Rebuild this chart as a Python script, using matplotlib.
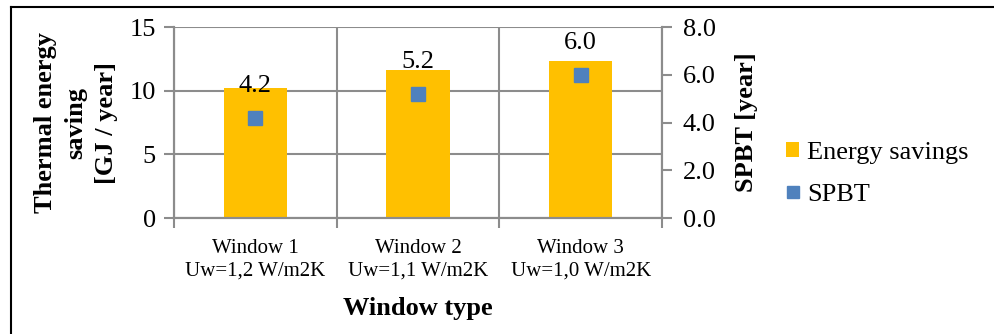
import matplotlib.pyplot as plt
from matplotlib.lines import Line2D
from matplotlib.ticker import FixedLocator

plt.rcParams['font.family'] = ['Liberation Serif', 'DejaVu Serif']

windows = ["Window 1\nUw=1,2 W/m2K", "Window 2\nUw=1,1 W/m2K", "Window 3\nUw=1,0 W/m2K"]
energy_savings = [10.2, 11.6, 12.3]   # GJ / year
spbt = [4.2, 5.2, 6.0]                # years

grid_col = "#8c8c8c"
bar_col = "#FFC000"
pt_col = "#4F81BD"

fig = plt.figure(figsize=(9.94, 3.34), dpi=100)
ax = fig.add_axes([0.175, 0.347, 0.491, 0.572])
ax2 = ax.twinx()

x = list(range(len(windows)))
bars = ax.bar(x, energy_savings, width=0.39, color=bar_col, zorder=2, label="Energy savings")
pts, = ax2.plot(x, spbt, linestyle="none", marker="s", markersize=9.5, color=pt_col, label="SPBT", zorder=3)

for xi, v in zip(x, spbt):
    ax2.annotate(f"{v:.1f}", (xi, v), xytext=(0, 23), textcoords="offset points",
                 ha="center", va="center", fontsize=19)

ax.set_xlim(-0.5, 2.5)
ax.set_ylim(0, 15)
ax2.set_ylim(0, 8)
ax.set_yticks([0, 5, 10, 15])
ax2.set_yticks([0, 2, 4, 6, 8])
ax2.set_yticklabels([f"{t:.1f}" for t in [0, 2, 4, 6, 8]])

# category labels on major ticks, boundaries on minor ticks
ax.set_xticks(x)
ax.set_xticklabels(windows, fontsize=15, linespacing=1.25)
ax.xaxis.set_minor_locator(FixedLocator([-0.5, 0.5, 1.5, 2.5]))
ax.tick_params(axis="x", which="major", length=0, pad=15)
ax.tick_params(axis="x", which="minor", length=7, width=1.5, color=grid_col)
ax.tick_params(axis="y", length=7, width=1.5, color=grid_col, labelsize=19, pad=6)
ax2.tick_params(axis="y", length=7, width=1.5, color=grid_col, labelsize=19, pad=8)

ax.grid(axis="y", color=grid_col, linewidth=1.5, zorder=0)
ax.grid(axis="x", which="minor", color=grid_col, linewidth=1.5, zorder=0)
ax.set_axisbelow(True)

for a in (ax, ax2):
    for s in a.spines.values():
        s.set_color(grid_col)
        s.set_linewidth(1.5)
    a.spines["top"].set_visible(False)

ax.set_ylabel("Thermal energy\nsaving\n[GJ / year]", fontsize=19, fontweight="bold", linespacing=1.4)
ax.yaxis.set_label_coords(-0.115, 0.5)
ax2.set_ylabel("SPBT [year]", fontsize=19, fontweight="bold")
ax2.yaxis.set_label_coords(1.15, 0.5)
ax.set_xlabel("Window type", fontsize=19, fontweight="bold", labelpad=12)

fig.legend(handles=[bars, pts], labels=["Energy savings", "SPBT"], loc="center left",
           bbox_to_anchor=(0.767, 0.48), frameon=False, fontsize=19,
           handlelength=0.5, handleheight=0.5, handletextpad=0.3, labelspacing=0.75,
           markerscale=0.9)

# outer frame lines
fig.add_artist(Line2D([0.011, 1.0], [0.979, 0.979], color="black", linewidth=1.5))
fig.add_artist(Line2D([0.011, 0.011], [0.0, 0.979], color="black", linewidth=1.5))

fig.savefig("out.png", dpi=100)
